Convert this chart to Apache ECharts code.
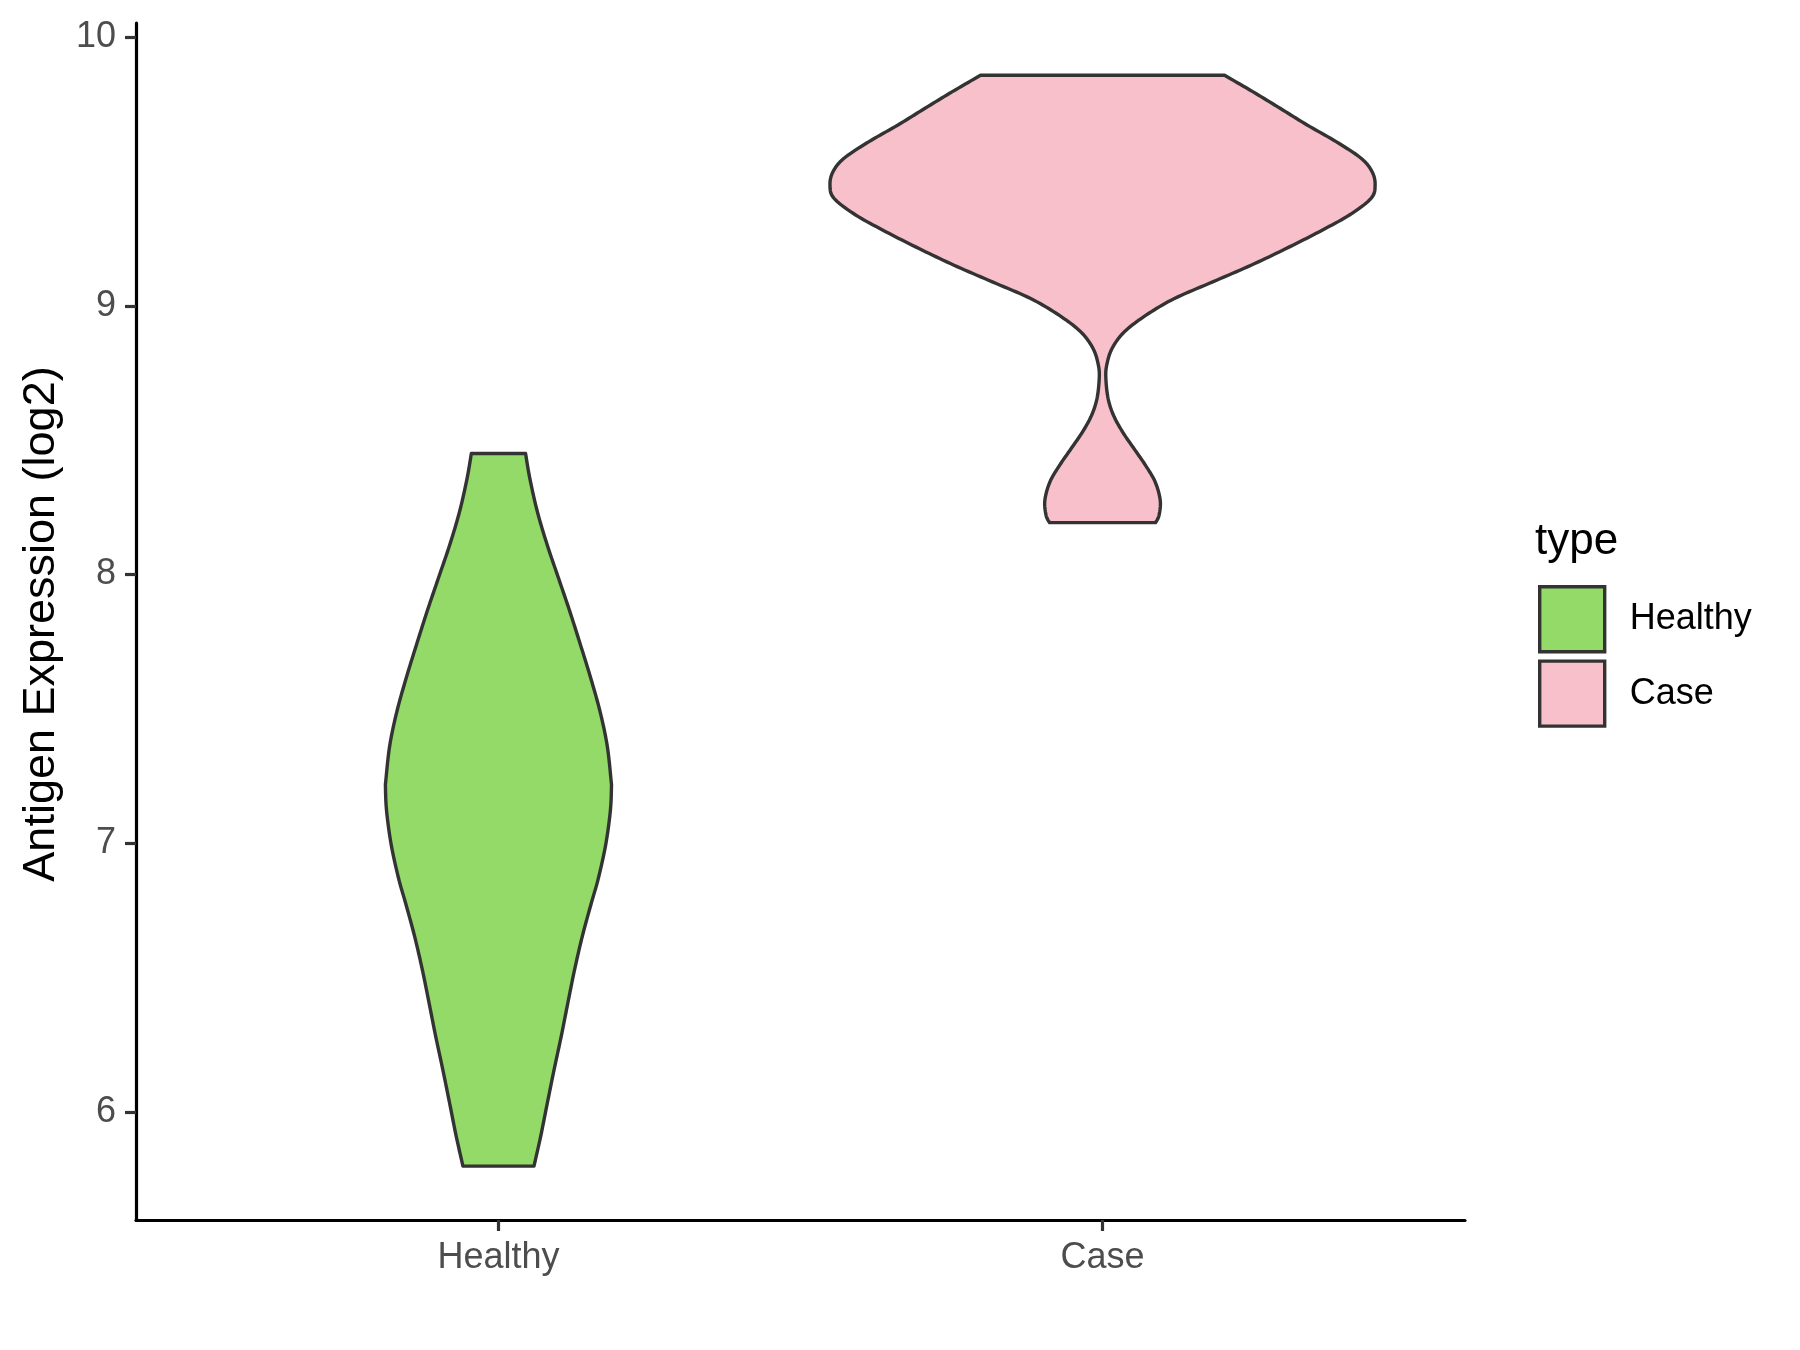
<!DOCTYPE html>
<html><head><meta charset="utf-8">
<script src="https://cdn.jsdelivr.net/npm/echarts@6/dist/echarts.min.js"></script>
<style>html,body{margin:0;padding:0;background:#fff}#c{width:1800px;height:1350px}</style>
</head><body><div id="c"></div>
<script>
// ---- data ----
const categories = ['Healthy', 'Case'];
const yTicks = [6, 7, 8, 9, 10];
const yMin = 5.5975, yMax = 10.0525;
// violin outlines: expression level (log2) and half-width (in category units)
const healthyValues = [8.450, 8.357, 8.233, 8.108, 7.984, 7.860, 7.735, 7.611, 7.487, 7.363, 7.239, 7.202, 7.115, 6.990, 6.866, 6.779, 6.655, 6.531, 6.407, 6.282, 6.158, 6.034, 5.910, 5.798];
const healthyWidths = [0.0449, 0.0520, 0.0645, 0.0810, 0.0998, 0.1185, 0.1362, 0.1532, 0.1685, 0.1800, 0.1862, 0.1870, 0.1850, 0.1772, 0.1650, 0.1540, 0.1390, 0.1262, 0.1150, 0.1040, 0.0922, 0.0810, 0.0700, 0.0588];
const caseValues = [9.858, 9.797, 9.735, 9.673, 9.611, 9.549, 9.499, 9.449, 9.400, 9.338, 9.276, 9.213, 9.151, 9.089, 9.027, 8.965, 8.903, 8.841, 8.779, 8.729, 8.655, 8.592, 8.530, 8.468, 8.406, 8.344, 8.276, 8.220, 8.193];
const caseWidths = [0.2020, 0.2486, 0.2939, 0.3386, 0.3866, 0.4280, 0.4462, 0.4512, 0.4445, 0.4087, 0.3590, 0.3038, 0.2459, 0.1824, 0.1190, 0.0720, 0.0361, 0.0157, 0.0069, 0.0055, 0.0092, 0.0182, 0.0333, 0.0522, 0.0712, 0.0872, 0.0955, 0.0935, 0.0877];
const colors = ['#93DA69', '#F7C0CB'];
const legendTitle = 'type';
const yTitle = 'Antigen Expression (log2)';

const FONT = '"Liberation Sans", Arial, Helvetica, sans-serif';
const profiles = [
  { values: healthyValues, widths: healthyWidths },
  { values: caseValues, widths: caseWidths }
];

// Catmull-Rom sampling of an outline side (render-time smoothing only)
function smoothSide(pts) {
  const out = [pts[0]];
  const n = pts.length;
  for (let i = 0; i < n - 1; i++) {
    const p0 = pts[Math.max(i - 1, 0)], p1 = pts[i], p2 = pts[i + 1], p3 = pts[Math.min(i + 2, n - 1)];
    const c1 = [p1[0] + (p2[0] - p0[0]) / 6, p1[1] + (p2[1] - p0[1]) / 6];
    const c2 = [p2[0] - (p3[0] - p1[0]) / 6, p2[1] - (p3[1] - p1[1]) / 6];
    const steps = 10;
    for (let s = 1; s <= steps; s++) {
      const t = s / steps, u = 1 - t;
      out.push([
        u*u*u*p1[0] + 3*u*u*t*c1[0] + 3*u*t*t*c2[0] + t*t*t*p2[0],
        u*u*u*p1[1] + 3*u*u*t*c1[1] + 3*u*t*t*c2[1] + t*t*t*p2[1]
      ]);
    }
  }
  return out;
}

function renderViolin(params, api) {
  const gi = params.seriesIndex;
  const prof = profiles[gi];
  const center = gi + 1;
  const right = prof.values.map((v, i) => api.coord([center + prof.widths[i], v]));
  const left = prof.values.map((v, i) => api.coord([center - prof.widths[i], v])).reverse();
  const pts = smoothSide(right).concat(smoothSide(left));
  return {
    type: 'polygon',
    shape: { points: pts },
    style: { fill: colors[gi], stroke: '#333333', lineWidth: 3.4, lineJoin: 'round' }
  };
}

const chart = echarts.init(document.getElementById('c'), null, { renderer: 'canvas' });
chart.setOption({
  animation: false,
  backgroundColor: '#ffffff',
  grid: { left: 136, right: 335, top: 23, bottom: 130 },
  xAxis: {
    type: 'value', min: 0.4, max: 2.6,
    splitLine: { show: false },
    axisLine: { show: true, onZero: false, lineStyle: { color: '#000', width: 3.2 } },
    axisTick: { show: true, length: 11, customValues: [1, 2], lineStyle: { color: '#333', width: 3.2 } },
    axisLabel: {
      show: true, customValues: [1, 2], margin: 20,
      formatter: v => categories[Math.round(v) - 1],
      fontSize: 36, lineHeight: 36, color: '#4D4D4D', fontFamily: FONT
    }
  },
  yAxis: {
    type: 'value', min: yMin, max: yMax,
    splitLine: { show: false },
    axisLine: { show: true, onZero: false, lineStyle: { color: '#000', width: 3.2 } },
    axisTick: { show: true, length: 11, customValues: yTicks, lineStyle: { color: '#333', width: 3.2 } },
    axisLabel: {
      show: true, customValues: yTicks, margin: 20,
      fontSize: 36, color: '#4D4D4D', fontFamily: FONT
    }
  },
  legend: {
    orient: 'vertical', left: 1533, top: 580,
    itemWidth: 65, itemHeight: 65, itemGap: 6,
    icon: 'rect',
    textStyle: { fontSize: 36, color: '#000', fontFamily: FONT, padding: [0, 0, 0, 20] },
    data: categories.map((c, i) => ({ name: c, itemStyle: { color: colors[i], borderColor: '#333333', borderWidth: 3.4 } }))
  },
  graphic: [
    {
      type: 'text', left: 1535, top: 520,
      style: { text: legendTitle, fontSize: 44, fill: '#000', fontFamily: FONT }
    },
    {
      type: 'text', x: 42, y: 624, rotation: Math.PI / 2,
      style: { text: yTitle, fontSize: 45, fill: '#000', fontFamily: FONT, align: 'center', verticalAlign: 'middle' }
    }
  ],
  series: categories.map((c, i) => ({
    name: c, type: 'custom',
    renderItem: renderViolin,
    itemStyle: { color: colors[i], borderColor: '#333333', borderWidth: 3.4 },
    data: [[i + 1, profiles[i].values[0]]],
    silent: true
  }))
});
</script>
</body></html>
